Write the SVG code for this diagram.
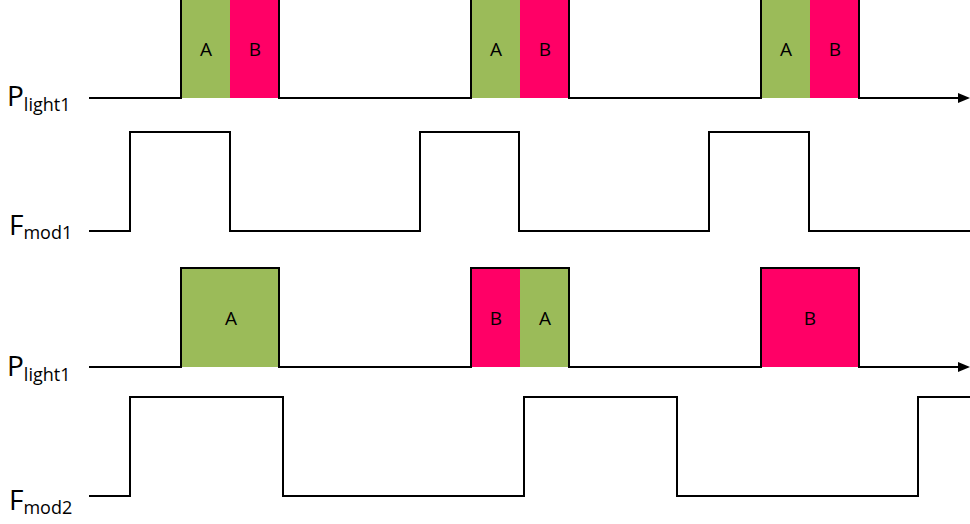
<svg xmlns="http://www.w3.org/2000/svg" width="970" height="524" viewBox="0 0 970 524">
  <style>
    .a { fill: #9BBB59; }
    .b { fill: #FF0066; }
    .lbl { font-family: "Open Sans", "Liberation Sans", sans-serif; font-size: 19px; fill: #000; text-anchor: middle; }
    .big { font-family: "Open Sans", "Liberation Sans", sans-serif; font-size: 28px; fill: #000; }
    .sub { font-size: 18px; }
    .wave { fill: none; stroke: #000; stroke-width: 2; stroke-linejoin: miter; }
  </style>
  <defs>
    <marker id="arrow" markerWidth="12" markerHeight="10" refX="0" refY="5" orient="auto" markerUnits="userSpaceOnUse">
      <path d="M0,0 L12,5 L0,10 Z" fill="#000"/>
    </marker>
  </defs>
  <rect width="970" height="524" fill="#fff"/>

  <!-- Row 1: P_light1 -->
  <g id="row1-labels">
    <text class="big" x="7" y="106">P<tspan class="sub" dy="5">light1</tspan></text>
  </g>
  <g id="row1-pulse1">
    <rect class="a" x="181" y="0" width="49" height="98"/>
    <rect class="b" x="230" y="0" width="49" height="98"/>
    <text class="lbl" x="206" y="56">A</text>
    <text class="lbl" x="255" y="56">B</text>
  </g>
  <g id="row1-pulse2">
    <rect class="a" x="471" y="0" width="49" height="98"/>
    <rect class="b" x="520" y="0" width="49" height="98"/>
    <text class="lbl" x="496" y="56">A</text>
    <text class="lbl" x="545" y="56">B</text>
  </g>
  <g id="row1-pulse3">
    <rect class="a" x="761" y="0" width="49" height="98"/>
    <rect class="b" x="810" y="0" width="49" height="98"/>
    <text class="lbl" x="786" y="56">A</text>
    <text class="lbl" x="835" y="56">B</text>
  </g>

  <!-- Row 2: F_mod1 -->
  <g id="row2-labels">
    <text class="big" x="9" y="235">F<tspan class="sub" dy="4">mod1</tspan></text>
  </g>

  <!-- Row 3: P_light1 -->
  <g id="row3-labels">
    <text class="big" x="7" y="376">P<tspan class="sub" dy="5">light1</tspan></text>
  </g>
  <g id="row3-pulse1">
    <rect class="a" x="181" y="268" width="98" height="99"/>
    <text class="lbl" x="231" y="325">A</text>
  </g>
  <g id="row3-pulse2">
    <rect class="b" x="471" y="268" width="49" height="99"/>
    <rect class="a" x="520" y="268" width="49" height="99"/>
    <text class="lbl" x="496" y="325">B</text>
    <text class="lbl" x="545" y="325">A</text>
  </g>
  <g id="row3-pulse3">
    <rect class="b" x="761" y="268" width="98" height="99"/>
    <text class="lbl" x="810" y="325">B</text>
  </g>

  <!-- Row 4: F_mod2 -->
  <g id="row4-labels">
    <text class="big" x="9" y="510">F<tspan class="sub" dy="4">mod2</tspan></text>
  </g>

  <g id="connectors">
    <path class="wave" d="M89,98 H181 V-3 M279,-3 V98 H471 V-3 M569,-3 V98 H761 V-3 M859,-3 V98 H958" marker-end="url(#arrow)"/>
    <path class="wave" d="M89,231 H130 V132 H230 V231 H420 V132 H519 V231 H709 V132 H809 V231 H970"/>
    <path class="wave" d="M89,367 H181 V268 H279 V367 H471 V268 H569 V367 H761 V268 H859 V367 H958" marker-end="url(#arrow)"/>
    <path class="wave" d="M89,496 H130 V397 H283 V496 H524 V397 H677 V496 H918 V397 H970"/>
  </g>
</svg>
